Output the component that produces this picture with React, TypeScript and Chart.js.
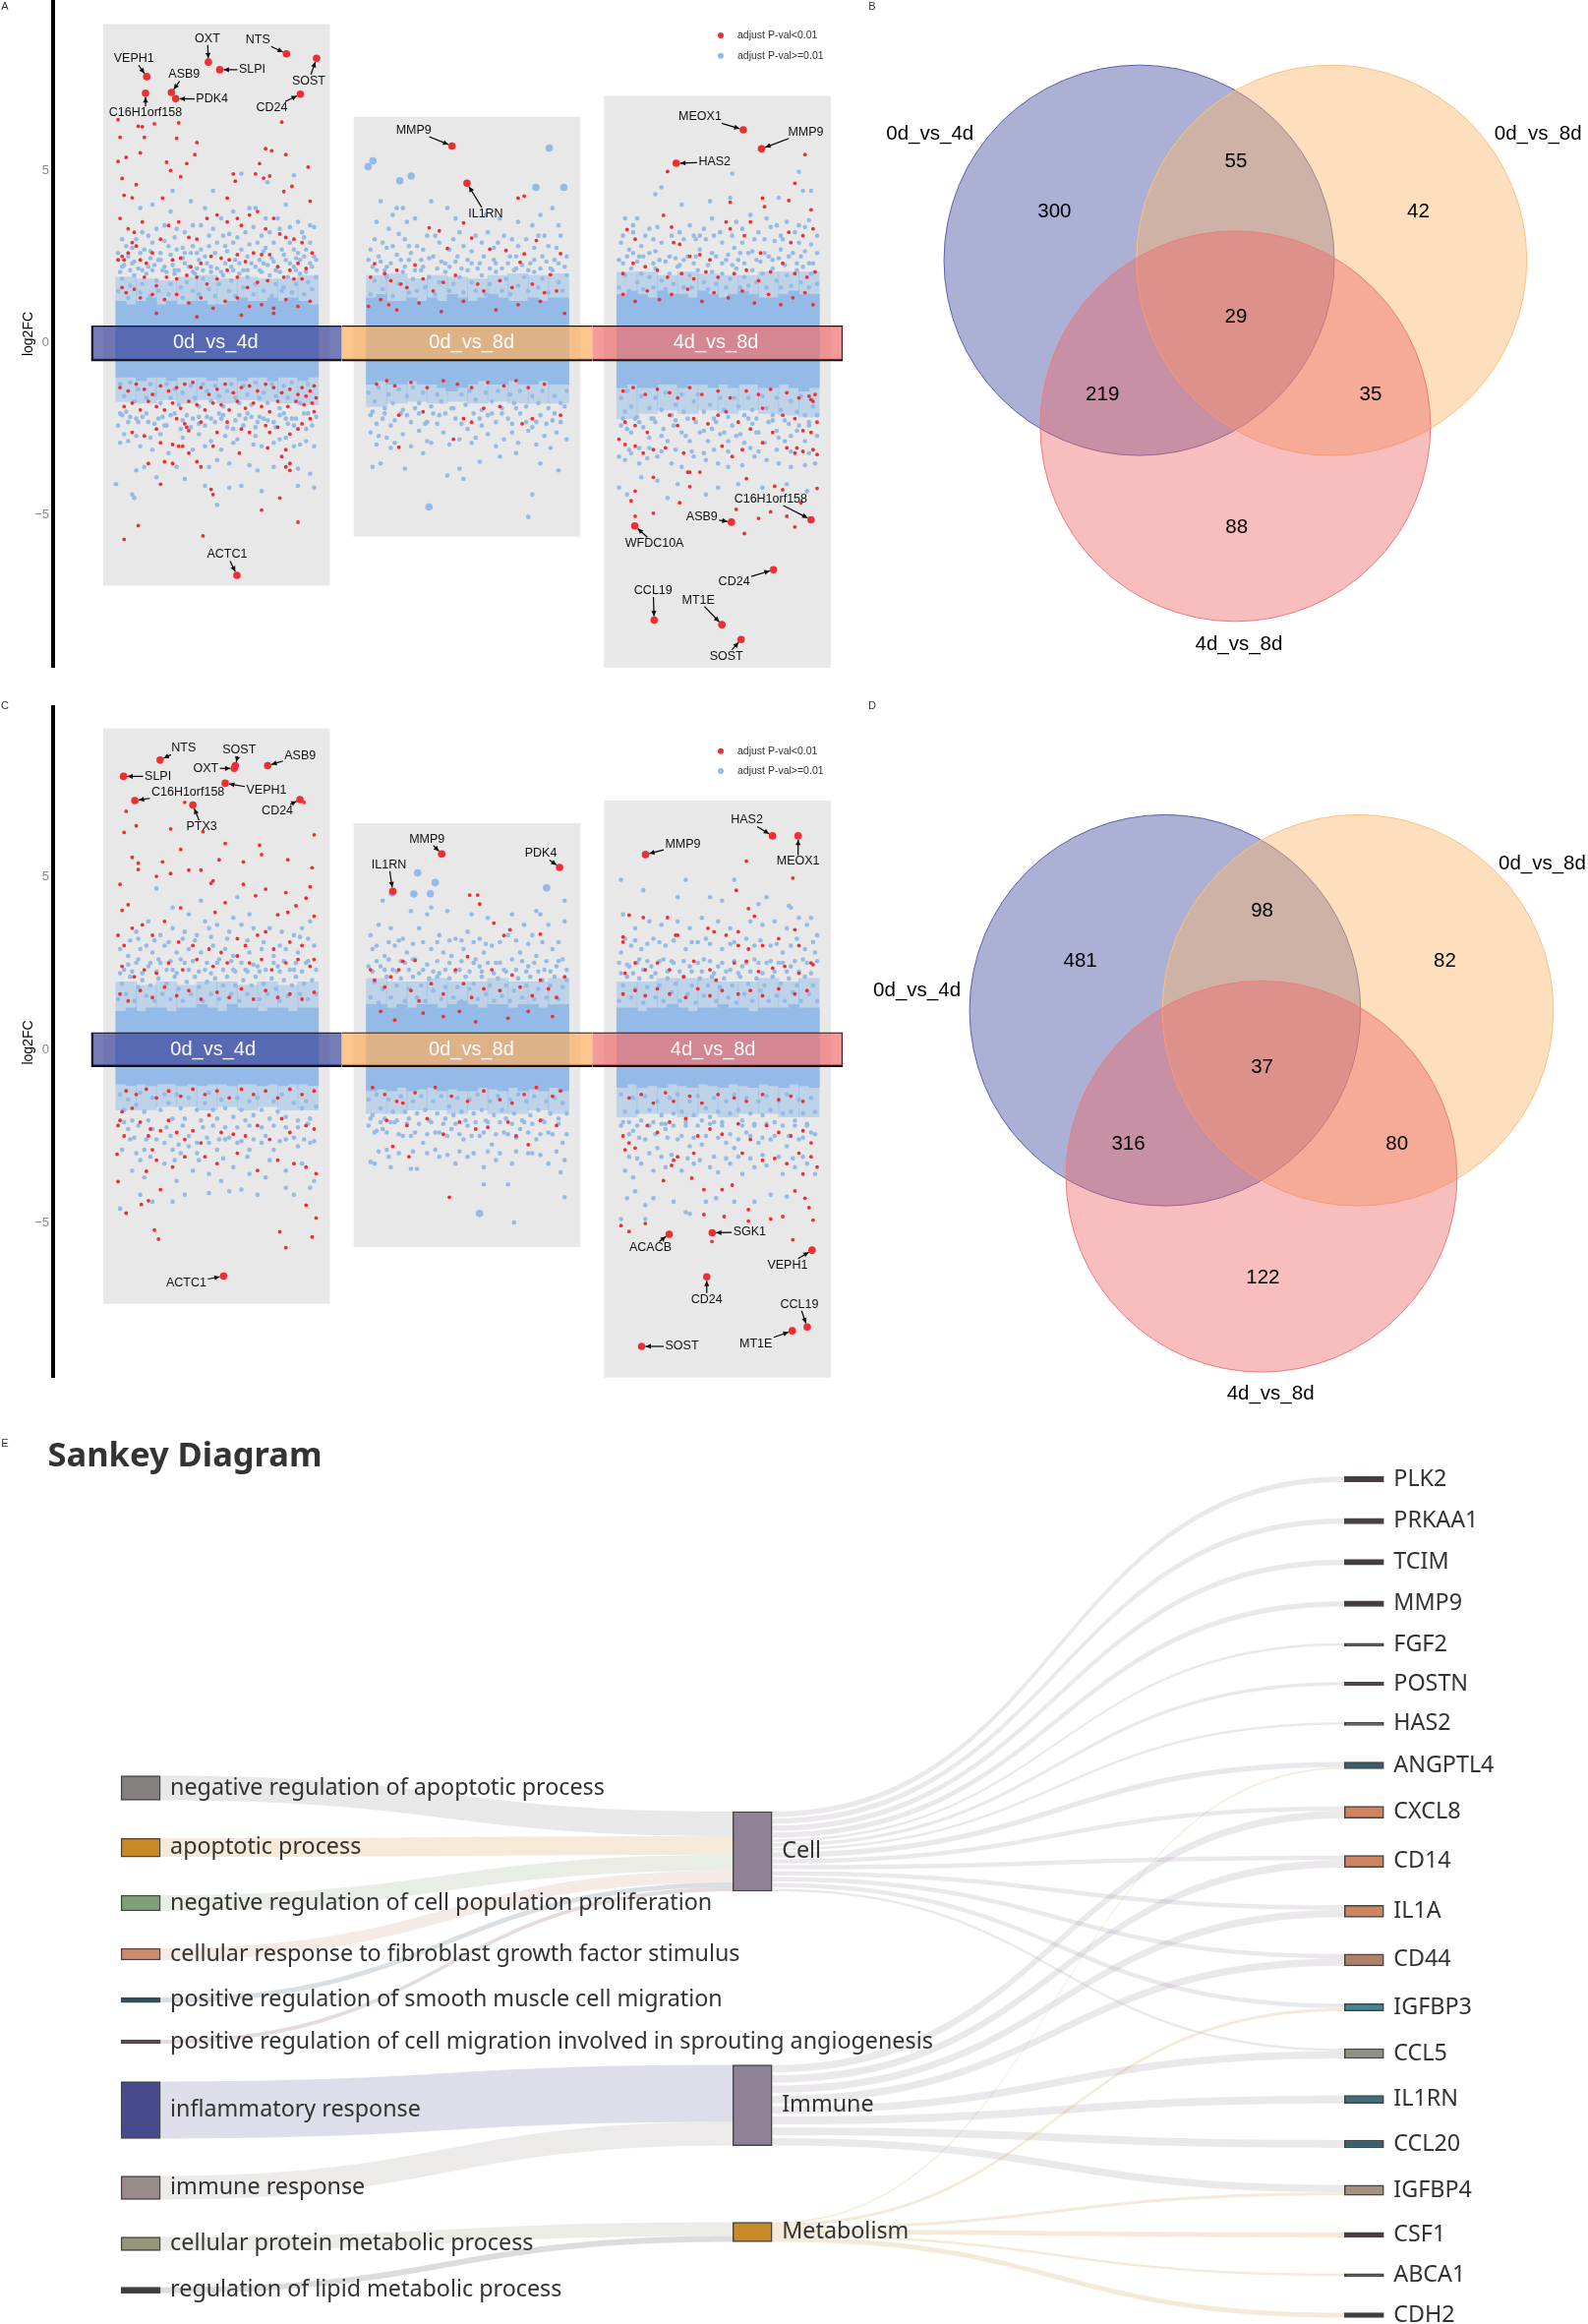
import React, { useEffect, useRef } from 'react';
import { Chart, registerables } from 'chart.js';
Chart.register(...registerables);

// ---------- shared categories ----------
const comparisons = ['0d_vs_4d', '0d_vs_8d', '4d_vs_8d'];
const legendLabels = ['adjust P-val<0.01', 'adjust P-val>=0.01'];
const yTickValues = [5, 0, -5];

// ---------- panel A: flat lists of gene rank (0-100 inside a facet), log2FC ----------
const aRed0 = [1,6.46,11,6.27,13,6.26,19,6.34,31,6.37,82,6.39,2,5.95,14,5.95,30,5.92,40,5.8,5,5.37,1,5.25,12,5.5,39,5.45,25,5.23,35,5.19,27,4.99,32,4.81,3,4.76,10,4.58,4,4.27,8,4.2,23,4.19,74,5.62,77,5.56,84,5.45,71,5.19,95,5.09,69,4.89,73,4.77,58,4.89,59,4.68,76,4.83,83,4.38,87,4.53,55,4.19,96,4.1,2,3.6,6,3.3,9,3.2,13,3.5,8,2.9,4,2.4,1,2.4,3,2.5,6,2.6,10,2.8,12,2.4,15,2.3,18,2.6,22,3,26,3.4,31,3.5,36,3.05,40,3,45,3.6,50,3.7,55,3.5,60,3.6,62,3.4,66,3.7,70,3.8,74,3.3,78,3.6,81,3.15,84,3.05,88,3,92,2.9,97,2.6,28,2.4,32,2.45,37,2.2,42,2.3,47,2.5,52,2.45,56,2.4,60,2.55,64,2.35,68,2.6,72,2.55,76,2.55,80,2.2,86,2.1,90,2.3,94,2.15,83,1.9,88,1.85,92,1.85,75,1.8,70,1.75,65,1.6,60,1.9,55,2.1,50,1.85,45,1.7,40,1.9,35,1.95,30,1.85,25,1.9,20,1.65,14,1.9,9,1.55,3,1.6,5,1.45,12,1.3,18,1.4,24,1.25,30,1.4,36,1.15,42,1.3,48,1,54,1.2,60,1.3,66,1.05,72,1.1,78,1,84,1.25,90,1.05,96,1.2,20,.85,40,.75,62,.8,78,.85,2,-1.3,6,-1.4,10,-1.2,14,-1.35,18,-1.5,22,-1.25,26,-1.4,30,-1.3,34,-1.2,38,-1.15,42,-1.3,46,-1.5,50,-1.35,54,-1.2,58,-1.45,62,-1.3,66,-1.25,70,-1.4,74,-1.2,78,-1.3,82,-1.45,86,-1.35,90,-1.5,92,-1.3,94,-1.55,96,-1.4,98,-1.25,99,-1.6,97,-1.75,93,-1.8,89,-1.7,85,-1.85,80,-1.7,76,-2,72,-1.85,68,-1.75,64,-1.9,60,-1.7,56,-1.95,52,-1.8,48,-1.75,44,-1.95,40,-1.8,36,-1.7,32,-1.9,28,-1.75,24,-1.95,20,-1.85,16,-1.7,12,-1.95,8,-1.75,4,-1.85,34,-2.35,35,-2.45,36,-2.55,42,-2.3,30,-2.2,20,-2.5,14,-2.7,8,-2.6,22,-2.9,28,-2.95,31,-3,33,-3,36,-3.2,48,-3,50,-2.6,55,-2.3,62,-2.5,66,-2.6,74,-2.4,76,-2.6,80,-2.45,86,-2.65,90,-2.5,92,-2.35,96,-2.2,98,-2,16,-3.5,24,-3.45,28,-3.5,40,-3.45,42,-3.6,61,-3.2,75,-3.05,84,-3.1,82,-3.3,84,-3.6,86,-3.5,86,-3.7,22,-4.1,47,-4.25,48,-4.4,81,-4.5,72,-4.85,90,-5.2,11,-5.3,43,-5.6,4,-5.7];
const aBlue0 = [28,4.4,48,4.4,62,4.9,75,4.65,88,4.85,66,3.9,12,3.9,18,4,27,3.8,37,4.1,44,3.9,52,3.6,58,3.8,69,3.9,74,3.6,80,3.6,84,4,90,3.5,96,3.4,98,3.35,3,3,16,3.1,20,3.3,24,3.4,30,3.3,34,3.2,38,3.4,42,3.4,46,3.1,56,3.15,64,3.2,72,3.1,76,3.2,86,3.35,92,3.2,96,2.9,1,2.6,5,2.8,10,3,14,2.7,18,2.9,22,2.6,26,2.8,30,2.7,34,2.6,38,2.8,42,2.7,46,2.8,50,2.9,54,2.8,58,2.9,62,2.7,66,2.85,70,2.9,74,2.75,78,2.9,82,2.7,86,2.9,90,2.6,94,2.7,98,2.5,3,2.2,8,2.3,13,2.1,19,2.25,24,2.2,29,2.1,34,2.3,40,2.15,45,2.3,50,2.15,57,2.2,63,2.1,69,2.2,73,2.3,79,2.1,84,2.4,89,2.1,96,2.3,1,-2.4,6,-2.3,10,-2.2,16,-2.3,24,-2.4,32,-2.5,38,-2.2,44,-2.4,52,-2.2,58,-2.5,64,-2.2,70,-2.3,78,-2.3,84,-2.2,88,-2.4,94,-2.5,2,-2.9,6,-2.85,12,-3,18,-3.1,26,-3.2,38,-3.1,44,-3,52,-3.1,58,-2.9,68,-2.95,72,-3,78,-2.9,88,-3,94,-2.85,98,-3,10,-3.7,14,-3.6,30,-3.6,46,-3.6,50,-3.4,56,-3.5,66,-3.55,70,-3.7,78,-3.6,90,-3.65,96,-3.8,0,-4.1,8,-4.4,9,-4.5,20,-3.9,34,-3.95,44,-4.15,56,-4.2,62,-4.15,72,-4.3,90,-4.15,98,-4.2,50,-4.7];
const aBelt0 = [1,1.5,3,1.85,6,1.3,7,1.65,9,1.95,12,1.45,13,1.7,15,2,17,1.35,20,1.8,21,1.5,23,2.1,26,1.4,27,1.7,29,2,32,1.6,33,1.3,35,1.75,38,1.5,39,2,41,1.4,43,1.85,46,1.55,47,2.05,49,1.35,51,1.7,53,1.95,56,1.5,57,1.8,59,1.35,61,2,63,1.6,65,1.9,68,1.4,69,1.7,71,2.1,73,1.5,76,1.95,77,1.35,79,1.7,82,1.5,83,1.6,85,1.9,87,1.45,89,1.7,91,2,93,1.4,95,1.75,97,1.55,99,1.9,2,-1.2,4,-1.55,7,-1.15,9,-1.7,11,-1.35,15,-1.6,17,-1.2,19,-1.5,22,-1.75,25,-1.2,27,-1.6,29,-1.35,31,-1.8,33,-1.45,37,-1.25,39,-1.6,41,-1.85,43,-1.2,45,-1.4,47,-1.7,49,-1.25,51,-1.55,53,-1.85,55,-1.4,57,-1.2,59,-1.6,61,-1.75,63,-1.25,65,-1.5,67,-1.8,69,-1.15,71,-1.6,73,-1.45,75,-1.75,77,-1.2,79,-1.55,81,-1.9,83,-1.25,85,-1.6,87,-1.15,91,-1.75,95,-1.2,6,2.5,12,2.6,17,2.45,21,2.4,27,2.55,33,2.45,37,2.6,44,2.5,49,2.6,55,2.65,59,2.4,65,2.5,71,2.4,77,2.45,83,2.55,89,2.45,93,2.5,3,-2.1,13,-2.15,21,-2.2,27,-2.1,35,-2.1,41,-2.15,47,-2.2,53,-2.1,61,-2.1,67,-2.15,73,-2.2,81,-2.1,87,-2.2,95,-2.05];
const aSpread0 = [2,2.05,4,2.25,7,2.1,9,2.35,11,2.15,16,2.2,18,2.1,22,2.4,25,2.05,28,2.25,31,2.1,36,2.2,38,2.05,41,2.4,43,2.1,47,2.2,52,2.05,54,2.3,58,2.1,61,2.3,65,2.1,67,2.3,72,2.05,75,2.25,78,2.35,81,2.05,86,2.3,88,2.2,91,2.4,94,2.05,97,2.2,99,2.4,8,2.75,13,3.2,17,2.65,24,2.95,29,3.05,33,2.75,40,2.6,48,3.3,53,3.1,60,3.05,68,3.35,73,2.65,81,3.3,88,2.7,93,3.05,2,-2.05,5,-2,7,-2.15,11,-2.3,15,-2.05,19,-2.35,23,-2.15,25,-2.4,29,-2.05,33,-2.25,37,-2.45,41,-2.35,45,-2.15,49,-2.3,51,-2.05,55,-2.45,59,-2.25,63,-2.4,65,-2.05,69,-2.45,71,-2.15,75,-2.25,79,-2.45,83,-2.05,85,-2.35,89,-2.2,93,-2.05,97,-2.4,99,-2.15,4,-2.65,10,-2.7,17,-2.75,22,-2.65,33,-2.75,41,-2.65,47,-2.85,54,-2.7,60,-2.8,69,-2.7,81,-2.8,84,-2.75,91,-2.95];
const aRed1 = [75,4.19,78,4.25,48,3.47,31,3.33,36,3.24,52,3.03,84,2.96,40,2.73,61,2.71,69,2.67,78,2.57,76,2.33,4,2.29,15,2.1,24,2.25,91,1.97,96,2.58,2,1.9,9,2,12,1.8,17,1.7,20,1.6,28,1.85,33,1.5,38,1.75,44,1.95,55,1.7,58,1.5,66,1.8,72,1.6,82,1.7,88,1.45,94,1.5,1,1.05,7,1.25,11,1.1,15,.95,26,1.15,37,.9,48,1.2,64,.95,75,1.1,86,1.2,98,.85,5,-1.2,10,-1.1,14,-1.25,22,-1.15,30,-1.3,38,-1.1,45,-1.2,52,-1.3,60,-1.15,68,-1.25,74,-1.1,80,-1.3,88,-1.2,16,-2.1,28,-2,48,-2.2,52,-2.3,58,-1.9,66,-1.85,77,-2.35,82,-2.2,96,-2.1,43,-2.8,16,-3.03];
const aBlue1 = [7,4.1,13,3.7,15,3.9,18,3.9,32,4.1,5,3.5,11,3.3,20,3.5,24,3.6,44,3.6,59,3.7,66,3.6,75,3.5,82,3.4,92,3.9,95,3.4,86,3.7,40,3.9,2,2.7,8,2.9,13,2.8,19,3,25,2.8,30,3.1,36,2.9,43,3,48,2.8,54,3.1,60,3.2,65,2.9,72,3,79,3,85,3.1,90,2.8,96,3.1,99,2.5,1,2.4,6,2.5,10,2.2,17,2.4,22,2.6,27,2.4,33,2.5,39,2.3,45,2.5,50,2.4,56,2.3,63,2.4,70,2.3,74,2.5,81,2.3,87,2.5,93,2.4,98,2.2,3,-2,8,-2.2,12,-2.4,20,-2.1,24,-1.9,30,-2.3,36,-2.1,42,-1.9,50,-2.5,56,-2.2,62,-2.05,70,-2.2,74,-1.9,84,-2.3,92,-2.25,98,-1.85,2,-2.6,6,-2.7,10,-2.75,18,-2.65,26,-2.55,32,-2.9,38,-2.6,46,-2.8,54,-2.75,60,-2.65,68,-2.8,72,-2.6,80,-2.55,88,-2.7,94,-2.6,99,-2.8,3,-3.6,7,-3.5,12,-3.05,19,-3.65,28,-3.2,40,-3.85,46,-3.65,56,-3.45,66,-3.3,74,-3.2,86,-3.5,95,-3.7,48,-3.95,82,-4.4,80,-5.05];
const aBelt1 = [2,1.4,4,1.8,5,2.1,8,1.55,10,1.9,13,1.35,16,1.7,18,2.05,21,1.45,23,1.85,25,1.5,27,2.1,29,1.6,31,1.9,34,1.4,36,1.75,39,2.05,41,1.5,43,1.7,46,1.9,48,1.45,50,2.1,52,1.75,54,1.5,57,1.95,59,1.4,61,1.7,64,2.05,67,1.5,69,1.85,71,1.4,73,2.1,75,1.65,78,1.9,80,1.5,83,2.05,85,1.6,87,1.85,90,1.45,92,2.1,95,1.75,97,1.5,99,1.95,1,-1.45,4,-1.7,6,-1.3,9,-1.9,11,-1.5,13,-1.75,16,-1.35,18,-1.95,20,-1.55,23,-1.3,26,-1.75,28,-1.45,32,-1.85,35,-1.5,37,-1.7,40,-1.35,43,-1.9,47,-1.5,49,-1.8,51,-1.4,54,-1.65,57,-1.95,59,-1.45,62,-1.7,65,-1.4,67,-1.9,71,-1.5,73,-1.75,76,-1.4,79,-1.85,82,-1.55,85,-1.75,87,-1.4,90,-1.9,93,-1.55,96,-1.75,99,-1.4];
const aSpread1 = [3,2.2,7,2.35,9,2.1,12,2.3,15,2.55,19,2.2,21,2.4,24,2.1,28,2.2,31,2.45,35,2.15,37,2.35,41,2.2,44,2.35,47,2.15,52,2.3,55,2.15,58,2.5,61,2.15,64,2.3,67,2.15,71,2.5,74,2.15,77,2.25,80,2.1,83,2.4,86,2.15,89,2.35,91,2.15,95,2.3,4,3,10,2.75,16,3.15,21,2.8,28,2.7,34,3.1,41,2.7,46,3.2,52,2.65,57,2.9,63,2.75,68,3.1,75,2.8,83,2.75,88,3.1,94,2.75,2,-2.1,5,-2.35,9,-2.05,14,-2.25,17,-2.05,22,-2.3,26,-2.05,29,-2.35,33,-2.05,35,-2.35,39,-2.05,44,-2.2,47,-2.35,53,-2.05,57,-2.4,60,-2.1,64,-2.3,67,-2.05,72,-2.35,76,-2.05,79,-2.3,82,-2.45,86,-2.1,89,-2.35,93,-2.05,96,-2.3,5,-2.95,14,-2.9,22,-3,30,-2.85,41,-2.95,52,-2.9,64,-3,75,-2.9,84,-2.95,91,-3.05];
const aBig1 = [.8,5.1,3.2,5.27,16.5,4.69,22.1,4.83,90.4,5.64,83.8,4.5,97.6,4.5,30.9,-4.76];
const aRed2 = [93,5.45,25,4.96,88,4.62,72,4.19,85,4.12,96,3.85,56,4.07,73,3.94,23,3.69,5,3.28,9,3,27,3.35,28,2.9,31,2.85,36,2.5,41,2.55,46,2.4,54,3.5,56,3.3,63,3.1,66,3.5,71,2.6,85,3.2,86,2.9,92,3.1,97,3.3,3,2,8,2.3,14,2.2,20,2.1,25,1.9,32,2,38,1.85,44,2.05,50,1.9,58,2,64,2.1,70,1.8,76,2.05,82,2.3,88,2,94,1.9,98,2.05,3,1.4,9,1.2,15,1.5,21,1.25,27,1.4,35,1.55,42,1.2,48,1.45,55,1.3,62,1.5,68,1.15,75,1.4,81,1.1,87,1.3,93,1.45,97,1.1,3,-1.4,8,-1.3,14,-1.5,20,-1.35,26,-1.45,30,-1.6,36,-1.3,42,-1.5,50,-1.4,56,-1.6,64,-1.4,70,-1.5,76,-1.35,84,-1.45,90,-1.6,95,-1.55,98,-1.5,97,-1.7,96,-1.65,4,-2.3,9,-2.4,15,-2.6,26,-2.1,30,-2.4,38,-2.2,45,-2.35,50,-2.1,54,-2,60,-2.3,66,-2.5,72,-1.9,77,-2.6,82,-2.1,88,-2.2,92,-2.55,96,-2.6,99,-2.3,1,-2.8,4,-2.95,9,-3,13,-3.2,18,-3.1,24,-3.05,33,-3.2,52,-3,57,-3.3,62,-3.1,72,-2.9,84,-3.05,88,-3.2,92,-3.15,97,-3.1,99,-3.24,89,-3.05,18,-3.9,36,-3.75,35,-3.75,41,-3.75,9,-4.3,7,-4.58,18,-4.94,9,-5.03,31,-4.64,36,-4.17,64,-3.94,78,-4.16,82,-4.26,99,-4.22,63,-5.53,70,-5.09,76,-4.9,91,-4.64,88,-5.34,84,-5.03,59,-4.83];
const aBlue2 = [22,4.5,19,4.3,57,4.9,90,4.95,92,4.4,96,4.4,80,4.2,56,4.2,46,4.1,32,4,10,3.6,4,3.6,8,3.4,16,3.3,36,3.4,41,3.1,47,3.6,59,3.5,66,3.7,74,3.6,79,3.4,84,3.5,90,3.4,95,3.55,99,3.1,2,2.9,6,2.7,12,2.8,18,3,22,2.9,33,3,38,3.1,44,3,48,3.1,52,2.9,58,2.75,62,2.9,68,3,73,3,78,2.95,82,3,90,2.9,96,2.85,1,2.4,5,2.5,11,2.5,16,2.6,21,2.4,26,2.5,33,2.4,39,2.5,49,2.5,54,2.4,60,2.4,65,2.6,69,2.4,75,2.5,80,2.45,85,2.5,91,2.5,97,2.3,2,-2.4,7,-2.6,11,-2.3,17,-2.2,22,-2.7,28,-2.4,34,-2.7,41,-2.6,47,-2.5,53,-2.6,59,-2.7,65,-2.2,70,-2.6,75,-2.3,80,-2.75,86,-2.7,90,-2.4,95,-2.3,1,-3.3,4,-3.4,7,-3.2,11,-3.5,15,-3.35,20,-3.3,27,-3.5,32,-3.6,38,-3.3,44,-3.4,50,-3.5,55,-3.6,62,-3.55,68,-3.3,74,-3.4,80,-3.5,86,-3.6,93,-3.55,98,-3.5,1,-4.2,5,-4.4,12,-3.9,20,-4,25,-4.5,30,-4.1,44,-4.4,50,-4.2,60,-4.1,72,-4.2,84,-4.1,94,-4.3];
const aBelt2 = [1,1.6,4,1.95,6,1.5,7,2.15,10,1.75,12,2,13,1.55,16,1.9,18,1.6,19,2.15,22,1.8,24,1.55,26,2,28,1.7,30,2.2,33,1.6,36,1.95,37,1.6,40,2.1,43,1.75,45,1.55,47,2.05,49,1.7,52,2,54,1.6,56,1.85,59,2.15,61,1.6,63,1.9,65,1.65,67,2.1,69,1.75,72,2,74,1.6,77,2.15,79,1.8,81,1.6,84,1.95,86,1.65,89,2.1,91,1.75,92,2.2,95,1.6,96,2,99,1.7,2,-1.6,4,-2,5,-1.4,7,-1.85,10,-2.15,12,-1.55,16,-1.9,18,-2.2,19,-1.6,22,-1.95,24,-1.45,27,-2.1,29,-1.8,32,-1.5,33,-2,35,-2.2,38,-1.7,40,-1.5,43,-2,46,-1.8,48,-2.2,51,-1.6,53,-1.95,55,-2.15,58,-1.6,60,-1.85,63,-2.1,65,-1.6,67,-1.95,69,-2.2,72,-1.55,74,-1.9,77,-2.1,79,-1.6,81,-1.95,83,-2.25,86,-1.7,89,-2,91,-1.55,93,-2.1,97,-1.85,99,-2.1];
const aSpread2 = [3,2.3,8,2.6,10,2.35,13,2.5,18,2.3,19,2.65,24,2.35,29,2.45,31,2.25,35,2.5,38,2.3,41,2.7,45,2.25,47,2.6,52,2.3,55,2.55,57,2.25,61,2.6,63,2.3,67,2.65,71,2.35,73,2.6,77,2.4,81,2.7,83,2.25,87,2.6,89,2.3,93,2.65,95,2.3,99,2.6,3,3.1,8,3.2,14,3.1,20,3.35,27,3.1,31,3.2,39,3,43,3.3,51,3.2,57,3.1,62,3.3,70,3.2,76,3.35,81,3.1,88,3.2,93,3.35,3,-2.2,5,-2.5,9,-2.2,13,-2.45,16,-2.75,19,-2.3,23,-2.5,25,-2.85,29,-2.25,32,-2.6,36,-2.85,39,-2.3,43,-2.55,45,-2.85,49,-2.3,51,-2.65,55,-2.85,57,-2.4,61,-2.65,63,-2.9,67,-2.35,69,-2.6,73,-2.9,77,-2.25,79,-2.55,83,-2.85,85,-2.35,89,-2.55,93,-2.85,95,-2.4,99,-2.7,6,-3.1,11,-3.05,16,-3.05,22,-3.15,29,-3.1,37,-3.15,43,-3.2,48,-3.1,55,-3.15,66,-3.05,70,-3.15,79,-3.1,86,-3.15,95,-3.2];
// dense core and half-dense belt of each cloud, read column by column
const aCoreHi = [[1.2,1.1,1.2,1.3,1.1,1.2,1.1,1.2,1.2,1.1,1.1,1.2,1.3,1.2,1.2,1.3,1.2,1.3,1.2,1.1],[1.3,1.4,1.2,1.2,1.3,1.2,1.3,1.2,1.4,1.3,1.2,1.3,1.4,1.3,1.2,1.2,1.3,1.2,1.3,1.3],[1.4,1.5,1.4,1.3,1.5,1.4,1.4,1.3,1.5,1.4,1.3,1.4,1.5,1.4,1.3,1.3,1.4,1.5,1.4,1.4]];
const aCoreLo = [[-1,-1,-1.1,-1,-1,-1.1,-1,-1,-1,-1.1,-1,-1,-1.1,-1,-1,-1.1,-1,-1,-1.1,-1],[-1.2,-1.1,-1.2,-1.2,-1.1,-1.2,-1.2,-1.3,-1.4,-1.3,-1.2,-1.1,-1.2,-1.2,-1.1,-1.2,-1.2,-1.1,-1.2,-1.2],[-1.3,-1.2,-1.3,-1.3,-1.2,-1.2,-1.3,-1.2,-1.2,-1.3,-1.2,-1.3,-1.2,-1.2,-1.3,-1.3,-1.2,-1.3,-1.4,-1.3]];
const aMidHi = [[1.9,1.85,1.8,1.9,1.95,1.85,1.9,1.85,1.85,1.95],[1.95,2,1.85,1.95,1.9,1.85,1.95,2,1.95,2],[2.05,2.05,1.95,2.05,2,1.95,1.95,2.05,2.05,2.05]];
const aMidLo = [[-1.7,-1.75,-1.65,-1.75,-1.65,-1.75,-1.65,-1.7,-1.75,-1.8],[-1.85,-1.75,-1.7,-1.75,-1.7,-1.75,-1.7,-1.75,-1.75,-1.75],[-2.2,-2.05,-1.95,-2.05,-1.95,-2.05,-1.95,-2.05,-2.1,-2.15]];
const aGeneNames = ['VEPH1','C16H1orf158','ASB9','PDK4','OXT','SLPI','NTS','SOST','CD24','ACTC1','MMP9','IL1RN','MEOX1','MMP9','HAS2','C16H1orf158','ASB9','WFDC10A','CD24','CCL19','MT1E','SOST'];
const aGeneFacet = [0,0,0,0,0,0,0,0,0,0,1,1,2,2,2,2,2,2,2,2,2,2];
const aGeneRank = [15.2,14.6,27.4,29.5,45.7,51.3,84.3,99.2,91.2,59.8,42.3,49.7,62.5,71.5,29.3,96,56.6,8.8,77.4,18.4,51.9,61.4];
const aGeneFC = [7.71,7.23,7.25,7.07,8.13,7.91,8.37,8.24,7.2,-6.74,5.7,4.62,6.17,5.62,5.2,-5.13,-5.2,-5.31,-6.58,-8.04,-8.17,-8.6];
const aLabelDx = [-13,0,13,37,-1,33,-29,-8,-29,-10,-39,19,-44,45,39,-41,-30,20,-40,-1,-24,-15];
const aLabelDy = [-18,20,-18,0.5,-24,0,-14,23,14,-21,-16,31,-13,-17,-1,-21,-5,18,12,-30,-25,17];
const aBoxLo = [-7.03,-5.61,-9.42];
const aBoxHi = [9.22,6.54,7.14];

// ---------- panel C ----------
const cRed0 = [5,6.88,34,7.14,93,7.14,4,6.27,10,6.46,27,6.37,43,6.29,98,6.2,32,5.78,54,5.95,71,5.9,72,5.63,85,5.48,8,5.55,11,5.38,23,5.42,51,5.48,63,5.42,97,5.25,2,4.77,11,5.2,20,5,27,5.08,36,5.18,42,5.18,48,4.87,47,4.8,63,4.77,74,4.63,84,4.53,96,4.7,94,4.37,6,4.18,3,4.02,32,4.09,54,4.24,49,3.96,69,4.44,80,3.89,85,3.96,89,4.15,98,3.85,1,3.3,4,3,8,3.5,13,3.6,18,3.3,24,3.7,31,3.1,38,3,46,2.9,52,2.8,60,3.2,64,3,70,3.3,74,3.4,78,2.9,86,3.1,92,3,98,2.6,3,2.4,9,2.1,14,2.3,20,2.2,26,2.5,33,2.3,40,2.6,48,2.4,55,2.5,60,2.7,66,2.5,72,2.6,77,2.3,84,2.5,90,2.6,96,2.4,2,1.6,6,1.4,12,1.7,18,1.5,24,1.8,30,1.55,36,1.7,42,1.45,50,1.65,56,1.5,62,1.75,68,1.45,74,1.7,80,1.5,86,1.6,92,1.45,98,1.65,5,-1.2,10,-1.3,15,-1.15,20,-1.4,26,-1.2,32,-1.35,38,-1.15,44,-1.3,50,-1.2,56,-1.4,62,-1.15,68,-1.3,74,-1.2,80,-1.4,86,-1.15,92,-1.3,98,-1.2,1,-2.2,2,-2.05,4,-2.5,3,-1.8,8,-1.7,12,-2.1,16,-2.5,17,-2.3,22,-2.35,26,-2.05,30,-2.4,34,-2.6,38,-2.35,42,-2.7,46,-1.9,52,-2.4,58,-2.45,64,-2.5,70,-2.2,76,-2.6,82,-2,86,-2.4,94,-2.2,98,-2.3,.5,-3.03,1,-3.82,5,-4.73,12.5,-4.48,16,-4.37,19,-5.22,21,-5.48,22,-4.05,15,-3.52,20,-3.2,28,-3.4,34,-3.1,44,-3.1,50,-3.3,60,-3,70,-3.5,80,-3.2,88,-3.3,94,-4.5,99,-4.87,97,-5.42,84,-5.73,81,-5.27,99,-3.59,94,-3.4,18,-2.9];
const cBlue0 = [20,4.65,42,4.3,60,4.4,28,4.1,36,3.9,44,3.7,50,3.6,58,3.8,66,3.9,76,3.5,82,3.4,92,3.5,96,3.7,10,3.4,16,3.7,22,3.3,28,3.5,34,3.4,40,3.3,46,3.5,56,3.4,62,3.6,68,3.5,88,3.3,95,3.2,2,2.9,6,2.7,12,2.9,18,2.8,24,3,30,2.8,36,2.9,42,2.8,48,3,54,2.9,58,2.7,66,2.8,72,2.9,78,2.7,84,2.9,90,2.8,98,3,4,2.3,10,2.5,16,2.4,22,2.5,28,2.3,34,2.5,44,2.3,50,2.5,58,2.3,64,2.3,70,2.4,80,2.4,88,2.3,94,2.5,3,-2.9,7,-2.6,10,-3,14,-2.9,24,-2.7,28,-2.9,32,-3,36,-2.8,40,-3,46,-2.7,50,-2.9,54,-2.6,60,-2.7,66,-2.9,72,-2.7,78,-2.9,84,-2.6,90,-2.8,96,-2.7,8,-3.5,14,-3.7,24,-3.3,30,-3.8,38,-3.5,46,-3.6,52,-3.8,58,-3.4,66,-3.6,74,-3.7,84,-3.5,92,-3.3,98,-3.8,2,-4.6,12,-4.2,18,-4.4,28,-4.4,34,-4.2,46,-4.15,56,-4.1,62,-4.05,70,-4.2,84,-4,88,-4.2,96,-4];
const cBelt0 = [1,1.45,3,1.9,5,1.6,7,2.1,9,1.4,11,1.8,13,2,15,1.55,17,1.85,19,1.4,21,2.05,23,1.6,25,1.9,27,1.45,29,2.1,31,1.75,33,1.4,35,1.95,37,1.6,39,2.1,41,1.8,43,1.4,45,1.95,47,1.6,49,2.05,51,1.45,53,1.85,55,2.1,57,1.6,59,1.85,61,1.4,63,2,65,1.6,67,1.85,69,2.1,71,1.45,73,1.9,75,1.6,77,2.05,79,1.75,81,1.4,83,2,85,1.55,87,1.85,89,2.1,91,1.6,93,1.9,95,1.45,97,2,99,1.6,2,-1.3,4,-1.75,6,-1.45,8,-2.05,10,-1.6,12,-1.25,14,-1.8,16,-2.05,18,-1.4,22,-1.75,24,-1.3,26,-1.55,28,-2,30,-1.3,32,-1.7,34,-2,36,-1.4,40,-1.75,42,-2.05,44,-1.55,46,-1.25,48,-1.75,50,-2,52,-1.45,54,-1.7,58,-1.95,60,-1.4,62,-1.75,64,-2.05,66,-1.5,68,-1.9,70,-1.4,72,-1.75,76,-2,78,-1.5,80,-1.8,82,-1.3,84,-1.95,88,-1.55,90,-2.05,92,-1.7,94,-1.5,96,-2,99,-1.65];
const cSpread0 = [2,2.2,6,2.45,8,2.25,11,2.6,13,2.2,17,2.5,20,2.25,21,2.6,25,2.3,27,2.55,30,2.2,32,2.6,36,2.3,38,2.55,41,2.25,45,2.5,47,2.2,51,2.6,53,2.3,57,2.55,59,2.25,62,2.5,65,2.25,68,2.45,71,2.25,74,2.3,78,2.5,81,2.25,83,2.55,86,2.3,89,2.5,92,2.25,95,2.55,99,2.3,7,3.15,11,3.2,15,3,19,3.15,26,3.1,33,3.2,39,3.15,47,3.25,55,3.2,65,3.15,73,3.1,81,3,91,3.25,4,-2.1,6,-2.3,9,-2.55,11,-2.2,15,-2.6,18,-2.3,20,-2.6,25,-2.25,27,-2.5,31,-2.75,33,-2.2,36,-2.5,40,-2.7,43,-2.25,45,-2.55,48,-2.2,51,-2.6,54,-2.25,56,-2.55,60,-2.25,62,-2.65,66,-2.2,68,-2.6,72,-2.25,74,-2.5,78,-2.2,81,-2.65,84,-2.25,88,-2.55,90,-2.25,93,-2.6,95,-2.15,98,-2.65,12,-3.2,17,-3.1,29,-3.2,41,-3.2,53,-3.15,65,-3.1,76,-3.2];
const cRed1 = [51,4.46,55,4.46,56,4.2,63,3.65,71,3.46,68,3.29,86,3.33,50,2.68,18,2.55,24,2.57,2,2.3,4,2,9,1.8,12,2.1,16,2.3,22,1.7,26,1.4,32,1.9,38,1.6,44,2.3,48,1.9,52,1.5,58,1.75,62,2.3,66,1.7,72,2.15,76,1.8,82,1.55,86,2,90,1.75,94,1.5,98,2.1,7,1.1,14,.85,28,1.05,38,.95,46,1.1,54,.8,70,.9,80,1.1,92,.95,3,-1.1,9,-1.3,15,-1.5,18,-1.55,24,-1.25,34,-1.1,42,-1.35,50,-1.5,58,-1.2,66,-1.45,72,-1.55,78,-1.3,84,-1.1,92,-1.35,96,-1.2,10,-2.05,13,-2.8,20,-2.2,30,-2,38,-2.45,46,-2.1,54,-2.3,60,-2.25,70,-2.1,74,-2.5,80,-2.75,86,-2.05,94,-2.2,21,-3.1,41,-4.27];
const cBlue1 = [8,4.3,22,4,32,4.1,40,4,52,3.9,60,3.8,72,3.9,84,4,86,3.9,98,4.3,2,3.3,6,3.6,12,3.5,18,3.2,26,3.5,30,3.9,36,3.3,44,3.2,50,3.4,56,3.2,62,3,70,3.3,78,3.6,82,3.3,90,3.6,98,3.7,3,2.9,9,2.7,14,3,20,2.8,24,2.6,32,2.9,38,2.8,42,2.7,48,2.9,54,2.6,58,2.8,64,2.5,72,2.6,76,2.8,84,2.7,92,2.9,97,2.6,1,2.4,7,2.4,13,2.3,19,2.5,28,2.3,36,2.2,46,2.3,56,2.4,68,2.3,80,2.4,88,2.3,94,2.4,1,-2.2,4,-2.4,8,-2.3,12,-2.1,18,-2.5,24,-2.4,28,-2.7,34,-2.4,42,-2.3,48,-2.6,56,-2.5,62,-2.75,68,-2.4,76,-2.3,84,-2.6,90,-2.4,97,-2.7,2,-3.25,4,-3.3,11,-3.1,12,-3.4,22,-3.45,25,-3.45,30,-3,36,-3.1,44,-3.3,50,-3.1,58,-3.4,64,-3.2,72,-3.3,82,-3,90,-3.3,98,-3.2,58,-3.9,70,-3.9,96,-3.55,98,-4.27,73,-5];
const cBelt1 = [2,1.5,4,1.95,6,1.35,8,1.75,10,2.1,12,1.5,15,1.85,17,2.05,19,1.4,21,1.75,23,2.1,25,1.5,27,1.85,29,1.4,31,2.05,33,1.7,35,2.1,37,1.45,39,1.8,41,2.05,43,1.5,45,1.8,47,1.4,49,2.1,51,1.75,53,1.9,55,1.45,57,2.1,59,1.6,61,1.85,63,1.4,65,2.05,67,1.55,69,1.85,71,1.4,73,1.7,75,2.05,77,1.5,79,1.85,81,2.1,83,1.45,85,1.75,87,2,89,1.5,91,1.85,93,2.1,95,1.45,97,1.8,99,2,1,-1.45,3,-1.9,5,-1.3,7,-1.7,9,-2,11,-1.45,13,-1.8,15,-2.05,17,-1.35,19,-1.8,21,-2,23,-1.5,25,-1.85,27,-1.35,29,-1.75,31,-2.05,33,-1.5,35,-1.85,37,-1.35,39,-2,41,-1.65,43,-1.9,45,-1.4,47,-1.8,49,-2.05,51,-1.45,53,-1.85,55,-1.3,57,-1.75,59,-2.05,61,-1.5,63,-1.9,65,-1.35,67,-1.75,69,-2,71,-1.45,73,-1.85,75,-1.3,77,-2.05,79,-1.5,81,-1.9,83,-1.35,85,-1.75,87,-2.05,89,-1.5,91,-1.85,93,-1.4,95,-2,97,-1.55,99,-1.85];
const cSpread1 = [3,2.25,5,2.55,9,2.3,11,2.6,15,2.25,17,2.55,21,2.3,23,2.6,26,2.2,30,2.45,33,2.25,35,2.55,39,2.3,41,2.5,44,2.25,47,2.55,51,2.25,53,2.5,57,2.25,60,2.5,63,2.2,66,2.5,69,2.25,74,2.3,77,2.55,79,2.25,83,2.5,85,2.25,89,2.55,91,2.25,95,2.55,99,2.3,5,3,11,3.1,16,3.15,23,3.05,28,3.1,35,3.1,41,3.15,47,3.15,53,3.1,59,3.05,66,3.1,74,3.15,80,3.05,87,3.1,95,3.1,2,-2,5,-2.35,7,-2.1,10,-2.4,14,-2.1,16,-2.45,20,-2.15,22,-2.5,26,-2.15,30,-2.45,32,-2.1,36,-2.4,38,-2.15,40,-2.5,44,-2.15,46,-2.45,50,-2.2,52,-2.5,54,-2.1,58,-2.4,60,-2.1,64,-2.45,66,-2.1,70,-2.45,72,-2.15,74,-2.55,78,-2.1,80,-2.4,82,-2.15,86,-2.45,88,-2.1,92,-2.45,95,-2.15,99,-2.45,6,-2.95,10,-2.9,16,-3,23,-2.95,34,-2.9,40,-3.05,46,-2.95,53,-3,60,-2.95,66,-3,74,-2.95,80,-3,86,-3.05,94,-2.95];
const cBig1 = [37.2,5.64,12.8,4.52,25.3,5.1,34,4.82,23.4,4.49,31.6,4.5,89.1,4.67,55.9,-4.74];
const cRed2 = [64,5.44,87,4.95,59,4.6,65,4.07,68,3.85,25,3.81,88,3.46,6,3.88,13,3.81,45,3.5,30,3.3,29,3.3,48,3.4,54,3.3,60,3.4,3,3.25,3,3.1,60,3,65,2.9,72,3,80,3.2,90,3,96,2.5,4,2.2,9,2.5,14,2.3,20,2.5,26,2.3,33,2.1,38,2.55,46,2.3,49,2,58,2.5,64,2.55,70,2.25,77,2.35,83,2.4,90,2.2,97,2.45,3,1.6,9,1.7,14,1.55,20,1.75,26,1.6,34,1.5,40,1.75,46,1.55,52,1.7,60,1.6,66,1.7,72,1.55,80,1.75,88,1.6,94,1.7,6,-1.4,12,-1.3,18,-1.55,24,-1.25,28,-1.5,36,-1.35,42,-1.55,50,-1.3,58,-1.4,64,-1.5,72,-1.3,80,-1.45,86,-1.35,92,-1.5,3,-2.5,6,-2.7,9,-2.85,4,-2.9,15,-2.2,20,-2.4,26,-2.1,34,-2,40,-2.5,46,-2.3,52,-2.45,60,-2.15,66,-2.6,74,-2.2,80,-2.4,86,-2.5,92,-2.35,96,-2.7,90,-3,28,-3.2,27,-3.35,30,-3.1,38,-3,62,-3,72,-3.2,78,-3.15,84,-3.3,92,-3.6,96,-3.1,99,-3.4,2,-5.09,6,-5.26,14,-5.03,47,-5.55,43,-4.77,53,-4.83,65,-4.63,65,-4.96,76,-4.9,82,-4.83,95,-4.57,97,-4.93,87,-5.5,88,-4.09,93,-4.3,57,-3.92,52,-4.05,43,-4.05,37,-3.72,23,-3.79];
const cBlue2 = [2,4.9,13,4.6,58,4.9,34,4.9,46,4.4,30,4.4,52,4.3,70,4.2,74,4.4,85,4.15,86,4.1,96,3.8,3,3.9,9,3.5,16,3.7,22,3.6,30,3.7,36,3.5,42,3.8,50,3.7,56,3.5,66,3.7,72,3.6,78,3.7,84,3.5,90,3.8,94,3.6,99,3.3,2,2.8,7,3,12,2.9,18,3.2,24,3,34,2.9,40,3.1,44,3.2,52,2.9,58,3.1,68,3,76,3,82,2.8,86,3,93,2.9,98,2.8,1,2.5,6,2.4,11,2.6,17,2.4,23,2.6,28,2.5,36,2.4,43,2.6,50,2.4,56,2.3,62,2.4,68,2.6,74,2.5,80,2.5,86,2.4,92,2.6,2,-2.2,8,-2.35,14,-2.6,20,-2.85,24,-2.3,30,-2.6,36,-2.8,42,-2.75,48,-2.1,54,-2.7,58,-2.85,64,-2.4,70,-2.7,76,-2.6,84,-2.8,90,-2.6,96,-2.4,4,-3.5,8,-3.7,12,-3.3,18,-3.5,24,-3.4,32,-3.5,38,-3.3,46,-3.4,50,-3.55,56,-3.3,62,-3.6,68,-3.4,74,-3.35,82,-3.6,88,-3.4,94,-3.3,98,-3.6,5,-4.3,9,-4.1,14,-4.5,18,-4.3,28,-4.4,34,-4.7,36,-4.75,44,-4.4,49,-4.3,58,-4.4,68,-4.4,76,-4.2,84,-4.25,2,-4.9,14,-4.9];
const cBelt2 = [1,1.4,3,1.85,5,2.1,7,1.5,9,1.75,11,2.05,13,1.35,15,1.8,17,2.1,19,1.5,21,1.85,23,1.4,25,2.05,27,1.65,29,1.9,31,1.4,33,2.1,35,1.6,37,1.85,39,1.35,41,2.05,43,1.55,45,1.85,47,2.1,49,1.4,51,1.8,53,2.05,55,1.5,57,1.85,59,1.35,61,2.1,63,1.6,65,1.9,67,1.4,69,2.05,71,1.7,73,1.85,75,1.4,77,2.1,79,1.55,81,1.9,83,1.4,85,2.05,87,1.65,89,1.85,91,1.4,93,2.1,95,1.6,97,1.85,99,1.4,2,-1.3,4,-1.8,6,-2.1,8,-1.4,10,-1.8,12,-2.05,14,-1.35,16,-1.75,18,-2.1,20,-1.5,22,-1.9,24,-2.15,26,-1.4,28,-1.85,30,-1.3,32,-1.8,34,-2.1,36,-1.5,38,-1.9,40,-1.35,42,-2.05,44,-1.7,46,-1.95,48,-1.4,50,-1.8,52,-2.1,54,-1.5,56,-1.85,58,-1.3,60,-1.75,62,-2.05,64,-1.4,66,-1.85,68,-2.15,70,-1.5,72,-1.9,74,-1.35,76,-1.75,78,-2.1,80,-1.5,82,-1.85,84,-1.3,86,-1.8,88,-2.05,90,-1.45,92,-1.85,94,-2.15,96,-1.4,98,-1.8];
const cSpread2 = [2,2.2,5,2.45,8,2.2,10,2.5,13,2.3,15,2.55,19,2.2,21,2.55,25,2.25,27,2.55,31,2.25,33,2.55,37,2.25,40,2.5,42,2.25,46,2.55,48,2.2,52,2.5,54,2.25,58,2.55,60,2.2,64,2.5,66,2.25,70,2.5,72,2.2,76,2.55,78,2.25,82,2.5,84,2.25,88,2.55,90,2.25,94,2.5,96,2.2,99,2.55,4,3.2,9,3.15,15,3.05,21,3.1,28,3.15,37,3.1,46,3.05,56,3.05,64,3.2,71,3.15,79,3.05,89,3.2,97,3.1,3,-2.1,6,-2.45,10,-2.2,11,-2.55,16,-2.2,19,-2.45,22,-2.15,25,-2.55,28,-2.2,32,-2.5,34,-2.2,38,-2.55,40,-2.2,44,-2.5,46,-2.15,50,-2.55,52,-2.2,56,-2.45,60,-2.6,62,-2.2,66,-2.5,68,-2.2,72,-2.55,74,-2.15,78,-2.5,82,-2.2,85,-2.5,88,-2.2,92,-2.55,94,-2.2,98,-2.45,6,-3.1,10,-3.15,16,-3,22,-3.1,27,-3.05,35,-3.15,41,-3.2,48,-3.1,54,-3.15,60,-3.1,66,-3.15,72,-3.05,80,-3.1,87,-3.15,92,-3.1];
const cCoreHi = [[1.1,1.2,1.1,1.2,1.2,1.1,1.2,1.2,1.3,1.2,1.1,1.3,1.2,1.2,1.1,1.2,1.2,1.1,1.2,1.2],[1.3,1.3,1.2,1.3,1.2,1.3,1.3,1.2,1.3,1.4,1.3,1.2,1.3,1.3,1.2,1.3,1.3,1.2,1.3,1.3],[1.2,1.2,1.1,1.2,1.2,1.3,1.2,1.1,1.2,1.2,1.3,1.2,1.2,1.1,1.2,1.2,1.2,1.3,1.2,1.2]];
const cCoreLo = [[-1,-1.05,-1,-1.05,-1,-1,-1.05,-1,-1.05,-1,-1,-1.05,-1,-1,-1.05,-1,-1.05,-1,-1,-1.05],[-1.2,-1.15,-1.2,-1.1,-1.2,-1.15,-1.1,-1.2,-1.15,-1.2,-1.2,-1.1,-1.15,-1.2,-1.1,-1.2,-1.15,-1.2,-1.1,-1.2],[-1.1,-1,-1.1,-1.05,-1.1,-1,-1.05,-1.1,-1,-1.05,-1.1,-1,-1.05,-1.1,-1,-1.05,-1.1,-1,-1.05,-1.1]];
const cMidHi = [[1.95,1.85,1.95,1.85,1.95,1.95,1.85,1.95,1.85,1.95],[2.05,1.95,1.95,2.05,1.95,1.95,2.05,1.95,1.95,2.05],[1.95,1.95,2.05,2.05,2.05,1.95,1.95,2.05,1.95,2.05]];
const cMidLo = [[-1.75,-1.75,-1.65,-1.65,-1.75,-1.65,-1.75,-1.65,-1.75,-1.75],[-1.85,-1.85,-1.75,-1.75,-1.85,-1.75,-1.85,-1.85,-1.75,-1.85],[-1.95,-1.85,-1.85,-1.95,-1.85,-1.95,-1.85,-1.85,-1.95,-1.95]];
const cGeneNames = ['NTS','SOST','OXT','ASB9','SLPI','VEPH1','C16H1orf158','PTX3','CD24','ACTC1','MMP9','IL1RN','PDK4','HAS2','MEOX1','MMP9','ACACB','SGK1','VEPH1','CD24','CCL19','MT1E','SOST'];
const cGeneFacet = [0,0,0,0,0,0,0,0,0,0,1,1,1,2,2,2,2,2,2,2,2,2,2];
const cGeneRank = [21.8,59,58.5,75,3.7,54,9.3,38,91,53.2,37.2,13,95.5,76.9,89.6,14.1,25.8,47.1,96.5,44.4,94.1,86.7,12.2];
const cGeneFC = [8.36,8.2,8.12,8.2,7.89,7.69,7.19,7.06,7.22,-6.55,5.65,4.57,5.26,6.17,6.17,5.63,-5.34,-5.3,-5.8,-6.57,-8.02,-8.13,-8.58];
const cLabelDx = [24,4,-29,33,35,42,54,9,-23,-38,-15,-4,-19,-26,0,38,-19,38,-25,0,-8,-37,41];
const cLabelDy = [-12,-16,0,-10,0,7,-8,22,11.5,7,-15,-27,-14,-16,26,-10,14,-1,15,23,-23,13,0];
const cBoxLo = [-7.34,-5.7,-9.47];
const cBoxHi = [9.26,6.53,7.18];

// ---------- Venn panels ----------
const vennCenterX = [-0.496, 0.49, -0.003];
const vennCenterY = [0.425, 0.425, -0.425];
const bCounts = ['300','55','42','29','219','35','88'];
const dCounts = ['481','98','82','37','316','80','122'];
const vennCountX = [-0.93, 0, 0.935, 0, -0.684, 0.69, 0.004];
const vennCountY = [0.682, 0.938, 0.682, 0.142, -0.254, -0.254, -0.934];

// ---------- Sankey ----------
const sankeyNames = ['negative regulation of apoptotic process','apoptotic process','negative regulation of cell population proliferation','cellular response to fibroblast growth factor stimulus','positive regulation of smooth muscle cell migration','positive regulation of cell migration involved in sprouting angiogenesis','inflammatory response','immune response','cellular protein metabolic process','regulation of lipid metabolic process','Cell','Immune','Metabolism','PLK2','PRKAA1','TCIM','MMP9','FGF2','POSTN','HAS2','ANGPTL4','CXCL8','CD14','IL1A','CD44','IGFBP3','CCL5','IL1RN','CCL20','IGFBP4','CSF1','ABCA1','CDH2'];
const sankeyColumn = [0,0,0,0,0,0,0,0,0,0,1,1,1,2,2,2,2,2,2,2,2,2,2,2,2,2,2,2,2,2,2,2,2];
const sankeyCenter = [378,438.6,495,547,593.7,636,705.5,784.5,841.5,888.7,442.5,700.6,829.5,64,106.6,148.4,190.7,232,272,312.6,355,402.7,452.7,503.3,552.8,601,648,694.7,740,787,832.4,873,914];
const sankeySource = [0,1,2,3,4,5,6,7,8,9,10,10,10,10,10,10,10,10,10,10,10,10,10,10,11,11,11,11,11,11,11,11,12,12,12,12,12,12];
const sankeyTarget = [10,10,10,10,10,10,11,11,12,12,13,14,15,16,17,18,19,20,21,22,23,24,25,26,21,22,23,24,26,27,28,29,20,25,29,30,31,32];
const sankeyValue = [25,19,16,12,5,4,58,24,14,6,5.5,5.5,5.5,5.5,2.5,3.5,2.5,5.5,4.5,4.5,4.5,4.5,4.5,2.5,7.5,7.5,7.5,7.5,7.5,8,8,7.5,1.5,3,3,5,2.5,5];
const sankeyColors = ['#858080','#c98a25','#7f9f76','#cf8a6c','#2f4f63','#6d3a45','#474a8a','#998b88','#96967a','#3c3c40','#8f8296','#8f8296','#c98a25','#4a3a42','#4e3b47','#4a3a42','#463a40','#2c2c2c','#6a4044','#2c2c2c','#33606f','#cf8460','#cf8460','#cf8460','#b08068','#3f8a96','#8f8f84','#3f6e7d','#36606f','#a49180','#4e3b40','#2e2e2e','#403a3c'];

const SANS = '"Liberation Sans", Arial, sans-serif';
const NOTO = '"Noto Sans", sans-serif';
const BLUE = '#94bbe8';
const RED = '#ee2d34';
const BAND = ['rgba(64,74,156,0.72)', 'rgba(252,174,94,0.7)', 'rgba(241,111,111,0.7)'];
const VENN_FILL = ['rgba(64,74,156,0.44)', 'rgba(250,182,107,0.44)', 'rgba(239,105,105,0.44)'];
const VENN_LINE = ['#5a62ab', '#fdbf80', '#ee7b7b'];

const FACET_STEP = 123.9; // facet spacing, in rank units

const pairs = (list: number[], facet: number) => {
  const out: { x: number; y: number }[] = [];
  for (let i = 0; i < list.length; i += 2) out.push({ x: list[i] + facet * FACET_STEP, y: list[i + 1] });
  return out;
};
const columns = (hi: number[], lo: number[], facet: number, w: number) =>
  hi.map((h, i) => ({ x: facet * FACET_STEP + w / 2 + w * i, y: [lo[i], h] }));

function drawArrow(ctx: CanvasRenderingContext2D, x0: number, y0: number, x1: number, y1: number) {
  const a = Math.atan2(y1 - y0, x1 - x0);
  ctx.beginPath();
  ctx.moveTo(x0, y0);
  ctx.lineTo(x1, y1);
  ctx.stroke();
  ctx.beginPath();
  ctx.moveTo(x1, y1);
  ctx.lineTo(x1 - 6 * Math.cos(a - 0.45), y1 - 6 * Math.sin(a - 0.45));
  ctx.lineTo(x1 - 6 * Math.cos(a + 0.45), y1 - 6 * Math.sin(a + 0.45));
  ctx.closePath();
  ctx.fill();
}

function letter(ctx: CanvasRenderingContext2D, t: string, x: number, y: number) {
  ctx.fillStyle = '#333';
  ctx.font = `11px ${SANS}`;
  ctx.textAlign = 'center';
  ctx.textBaseline = 'middle';
  ctx.fillText(t, x, y);
}

function volcano(canvas: HTMLCanvasElement, d: any) {
  const datasets: any[] = [];
  const bar = { type: 'bar', grouped: false, clip: false };
  comparisons.forEach((_, f) => {
    datasets.push({ ...bar, order: 100, barThickness: 230, backgroundColor: '#e8e8e8', data: [{ x: 49.7 + f * FACET_STEP, y: [d.boxLo[f], d.boxHi[f]] }] });
    datasets.push({ ...bar, order: 90, barThickness: 20.9, backgroundColor: 'rgba(148,187,232,0.5)', data: columns(d.midHi[f], d.midLo[f], f, 10) });
    datasets.push({ ...bar, order: 80, barThickness: 10.6, backgroundColor: BLUE, data: columns(d.coreHi[f], d.coreLo[f], f, 5) });
    datasets.push({ type: 'scatter', order: 70, pointRadius: 2.3, pointBorderWidth: 0, pointBackgroundColor: BLUE, data: pairs(d.blue[f].concat(d.belt[f], d.spread[f]), f) });
    datasets.push({ type: 'scatter', order: 60, pointRadius: 1.9, pointBorderWidth: 0, pointBackgroundColor: RED, data: pairs(d.red[f], f) });
    datasets.push({
      ...bar, order: 40, barThickness: 254.7, backgroundColor: BAND[f], borderColor: '#111', borderSkipped: false,
      borderWidth: { top: 1, bottom: 2, left: f === 0 ? 2 : 0, right: f === 2 ? 1 : 0 },
      data: [{ x: 49.7 + f * FACET_STEP, y: [d.bandLo, d.bandHi] }],
    });
  });
  datasets.push({ type: 'scatter', order: 55, pointRadius: 3.8, pointBorderWidth: 0, pointBackgroundColor: BLUE, data: pairs(d.big, 1) });
  const geneIndex = datasets.length;
  datasets.push({
    type: 'scatter', order: 50, pointRadius: 3.8, pointBorderWidth: 0, pointBackgroundColor: RED,
    data: d.names.map((_: string, i: number) => ({ x: d.rank[i] + d.facet[i] * FACET_STEP, y: d.fc[i] })),
  });
  const annotate = {
    id: 'annotate',
    afterDatasetsDraw(chart: any) {
      const { ctx, scales } = chart;
      ctx.save();
      letter(ctx, d.letter, 5, d.letterY);
      // comparison names on the band
      ctx.fillStyle = 'rgba(255,255,255,0.95)';
      ctx.font = `20px ${SANS}`;
      ctx.textAlign = 'center';
      ctx.textBaseline = 'middle';
      comparisons.forEach((c, f) => ctx.fillText(c, scales.x.getPixelForValue(d.bandText[f] + f * FACET_STEP), scales.y.getPixelForValue(0)));
      // gene labels and arrows
      ctx.font = `12.5px ${SANS}`;
      ctx.strokeStyle = '#000';
      ctx.lineWidth = 1.2;
      const pts = chart.getDatasetMeta(geneIndex).data;
      d.names.forEach((n: string, i: number) => {
        const px = pts[i].x, py = pts[i].y;
        const lx = px + d.dx[i], ly = py + d.dy[i];
        ctx.fillStyle = '#111';
        ctx.fillText(n, lx, ly);
        const hw = ctx.measureText(n).width / 2 + 1.5, hh = 6.5;
        const vx = px - lx, vy = py - ly, len = Math.hypot(vx, vy);
        const t = Math.min(vx ? hw / Math.abs(vx) : 9, vy ? hh / Math.abs(vy) : 9);
        if (t < 1) {
          const ux = vx / len, uy = vy / len;
          const sx = lx + vx * t, sy = ly + vy * t;
          if (Math.hypot(px - sx, py - sy) > 6) drawArrow(ctx, sx, sy, px - ux * 4, py - uy * 4);
        }
      });
      // legend
      const lg = [RED, BLUE];
      ctx.textAlign = 'left';
      ctx.font = `10.5px ${SANS}`;
      lg.forEach((col, i) => {
        const y = d.legendY[i];
        ctx.fillStyle = col;
        ctx.beginPath();
        ctx.arc(733, y, 3, 0, Math.PI * 2);
        ctx.fill();
        ctx.fillStyle = '#333';
        ctx.fillText(legendLabels[i], 750, y);
      });
      ctx.restore();
    },
  };
  return new Chart(canvas, {
    type: 'scatter',
    data: { datasets },
    plugins: [annotate],
    options: {
      animation: false, responsive: false, events: [],
      layout: { autoPadding: false, padding: { top: d.padTop, left: 0, right: 0, bottom: 0 } },
      plugins: { legend: { display: false }, tooltip: { enabled: false }, title: { display: false } },
      scales: {
        x: { type: 'linear', display: false, min: -31.13, max: 360.9, offset: false },
        y: {
          type: 'linear', min: d.yMin, max: d.yMax,
          grid: { display: false, drawTicks: false },
          border: { display: true, color: '#000', width: 4 },
          title: { display: true, text: 'log2FC', color: '#000', font: { family: SANS, size: 14 }, padding: { top: 21, bottom: 0 } },
          afterBuildTicks: (s: any) => { s.ticks = yTickValues.map((value) => ({ value })); },
          afterFit: (s: any) => { s.width = 54; s.paddingTop = 0; s.paddingBottom = 0; },
          ticks: { color: '#888', font: { family: SANS, size: 13 }, padding: 4, callback: (v: any) => (v < 0 ? `\u2212${-v}` : `${v}`) },
        },
      },
    } as any,
  });
}

function venn(canvas: HTMLCanvasElement, d: any) {
  const radius = (ctx: any) => { const s = ctx.chart.scales.x; return s.getPixelForValue(1) - s.getPixelForValue(0); };
  const datasets = comparisons.map((c, i) => ({
    label: c, type: 'scatter', order: 10 - i, clip: false,
    pointRadius: radius, pointBackgroundColor: VENN_FILL[i], pointBorderColor: VENN_LINE[i], pointBorderWidth: 1,
    data: [{ x: vennCenterX[i], y: vennCenterY[i] }],
  }));
  const annotate = {
    id: 'vennText',
    afterDatasetsDraw(chart: any) {
      const { ctx, scales } = chart;
      ctx.save();
      letter(ctx, d.letter, 27, d.letterY);
      ctx.fillStyle = '#000';
      ctx.font = `20.5px ${SANS}`;
      ctx.textAlign = 'center';
      ctx.textBaseline = 'middle';
      d.counts.forEach((t: string, i: number) => ctx.fillText(t, scales.x.getPixelForValue(vennCountX[i]), scales.y.getPixelForValue(vennCountY[i]) + 1.5));
      comparisons.forEach((c, i) => ctx.fillText(c, scales.x.getPixelForValue(d.labelX[i]), scales.y.getPixelForValue(d.labelY[i]) + 1.5));
      ctx.restore();
    },
  };
  return new Chart(canvas, {
    type: 'scatter',
    data: { datasets },
    plugins: [annotate],
    options: {
      animation: false, responsive: false, events: [],
      layout: { autoPadding: false },
      plugins: { legend: { display: false }, tooltip: { enabled: false } },
      scales: {
        x: { type: 'linear', display: false, min: d.xMin, max: d.xMax },
        y: { type: 'linear', display: false, min: d.yMin, max: d.yMax },
      },
    } as any,
  });
}

function sankey(canvas: HTMLCanvasElement) {
  const n = sankeyNames.length;
  const inSum = new Array(n).fill(0), outSum = new Array(n).fill(0);
  sankeyValue.forEach((v, i) => { outSum[sankeySource[i]] += v; inSum[sankeyTarget[i]] += v; });
  const size = sankeyNames.map((_, i) => Math.max(inSum[i], outSum[i]));
  const top = sankeyCenter.map((c, i) => c - size[i] / 2);
  const order = sankeyValue.map((_, i) => i);
  const y0 = new Array(sankeyValue.length).fill(0), y1 = new Array(sankeyValue.length).fill(0);
  for (let node = 0; node < n; node++) {
    const out = order.filter((i) => sankeySource[i] === node).sort((a, b) => sankeyCenter[sankeyTarget[a]] - sankeyCenter[sankeyTarget[b]]);
    const gap = out.length > 1 ? (size[node] - outSum[node]) / (out.length - 1) : 0;
    let cur = top[node];
    out.forEach((i) => { y0[i] = cur; cur += sankeyValue[i] + gap; });
    const inc = order.filter((i) => sankeyTarget[i] === node).sort((a, b) => sankeyCenter[sankeySource[a]] - sankeyCenter[sankeySource[b]]);
    cur = top[node];
    inc.forEach((i) => { y1[i] = cur; cur += sankeyValue[i]; });
  }
  const nodes = {
    type: 'bar', grouped: false, barThickness: 40, clip: false,
    backgroundColor: sankeyColors, borderColor: '#444', borderWidth: 1.5, borderSkipped: false,
    data: sankeyNames.map((_, i) => ({ x: sankeyColumn[i], y: [top[i], top[i] + Math.max(size[i], 3)] })),
  };
  const links = {
    id: 'links',
    beforeDatasetsDraw(chart: any) {
      const { ctx, scales } = chart;
      const half = 20;
      ctx.save();
      ctx.globalAlpha = 0.18;
      sankeyValue.forEach((v, i) => {
        const s = sankeySource[i], t = sankeyTarget[i];
        const xa = scales.x.getPixelForValue(sankeyColumn[s]) + half;
        const xb = scales.x.getPixelForValue(sankeyColumn[t]) - half;
        const xm = (xa + xb) / 2;
        const a0 = scales.y.getPixelForValue(y0[i]), a1 = scales.y.getPixelForValue(y0[i] + v);
        const b0 = scales.y.getPixelForValue(y1[i]), b1 = scales.y.getPixelForValue(y1[i] + v);
        ctx.fillStyle = sankeyColors[s];
        ctx.beginPath();
        ctx.moveTo(xa, a0);
        ctx.bezierCurveTo(xm, a0, xm, b0, xb, b0);
        ctx.lineTo(xb, b1);
        ctx.bezierCurveTo(xm, b1, xm, a1, xa, a1);
        ctx.closePath();
        ctx.fill();
      });
      ctx.restore();
    },
    afterDatasetsDraw(chart: any) {
      const { ctx, scales } = chart;
      ctx.save();
      letter(ctx, 'E', 5, 28);
      ctx.fillStyle = '#333';
      ctx.font = `bold 34.5px ${NOTO}`;
      ctx.textAlign = 'left';
      ctx.textBaseline = 'middle';
      ctx.fillText('Sankey Diagram', 48.5, 41);
      ctx.font = `23.3px ${NOTO}`;
      sankeyNames.forEach((name, i) => {
        ctx.fillText(name, scales.x.getPixelForValue(sankeyColumn[i]) + 30, scales.y.getPixelForValue(sankeyCenter[i]));
      });
      ctx.restore();
    },
  };
  return new Chart(canvas, {
    type: 'bar',
    data: { datasets: [nodes as any] },
    plugins: [links],
    options: {
      animation: false, responsive: false, events: [],
      plugins: { legend: { display: false }, tooltip: { enabled: false } },
      scales: {
        x: { type: 'linear', display: false, min: -0.23, max: 2.366, offset: false },
        y: { type: 'linear', display: false, min: 0, max: 923, reverse: true },
      },
    } as any,
  });
}

const aData = {
  letter: 'A', letterY: 7, padTop: 0, yMin: -9.42, yMax: 9.93, bandLo: -0.53, bandHi: 0.49, legendY: [36, 56.7],
  bandText: [49.3, 52, 48.9], boxLo: aBoxLo, boxHi: aBoxHi,
  red: [aRed0, aRed1, aRed2], blue: [aBlue0, aBlue1, aBlue2], belt: [aBelt0, aBelt1, aBelt2], spread: [aSpread0, aSpread1, aSpread2], big: aBig1,
  coreHi: aCoreHi, coreLo: aCoreLo, midHi: aMidHi, midLo: aMidLo,
  names: aGeneNames, facet: aGeneFacet, rank: aGeneRank, fc: aGeneFC, dx: aLabelDx, dy: aLabelDy,
};
const cData = {
  letter: 'C', letterY: 18, padTop: 19, yMin: -9.49, yMax: 9.89, bandLo: -0.5, bandHi: 0.49, legendY: [63.8, 84],
  bandText: [48, 51.9, 47.5], boxLo: cBoxLo, boxHi: cBoxHi,
  red: [cRed0, cRed1, cRed2], blue: [cBlue0, cBlue1, cBlue2], belt: [cBelt0, cBelt1, cBelt2], spread: [cSpread0, cSpread1, cSpread2], big: cBig1,
  coreHi: cCoreHi, coreLo: cCoreLo, midHi: cMidHi, midLo: cMidLo,
  names: cGeneNames, facet: cGeneFacet, rank: cGeneRank, fc: cGeneFC, dx: cLabelDx, dy: cLabelDy,
};
const bData = { letter: 'B', letterY: 7, counts: bCounts, labelX: [-1.568, 1.548, 0.015], labelY: [1.079, 1.079, -1.537], xMin: -2, xMax: 1.804, yMin: -1.768, yMax: 1.758 };
const dData = { letter: 'D', letterY: 18, counts: dCounts, labelX: [-1.765, 1.433, 0.043], labelY: [0.531, 1.18, -1.53], xMin: -2.13, xMax: 1.667, yMin: -1.651, yMax: 2.071 };

export default function App() {
  const refs = [useRef<HTMLCanvasElement>(null), useRef<HTMLCanvasElement>(null), useRef<HTMLCanvasElement>(null), useRef<HTMLCanvasElement>(null), useRef<HTMLCanvasElement>(null)];
  useEffect(() => {
    const charts = [
      volcano(refs[0].current!, aData),
      venn(refs[1].current!, bData),
      volcano(refs[2].current!, cData),
      venn(refs[3].current!, dData),
      sankey(refs[4].current!),
    ];
    return () => charts.forEach((c) => c.destroy());
  }, []);
  const place = (left: number, top: number, blur = 0.45): React.CSSProperties => ({ position: 'absolute', left, top, display: 'block', filter: `blur(${blur}px)` });
  return (
    <div style={{ position: 'absolute', left: 0, top: 0, width: 1615, height: 2363, background: '#fff', overflow: 'hidden' }}>
      <canvas ref={refs[4]} width={1615} height={923} style={place(0, 1440, 0.3)} />
      <canvas ref={refs[0]} width={860} height={679} style={place(0, 0)} />
      <canvas ref={refs[1]} width={755} height={700} style={place(860, 0, 0.3)} />
      <canvas ref={refs[2]} width={860} height={701} style={place(0, 700)} />
      <canvas ref={refs[3]} width={755} height={740} style={place(860, 700, 0.3)} />
    </div>
  );
}
